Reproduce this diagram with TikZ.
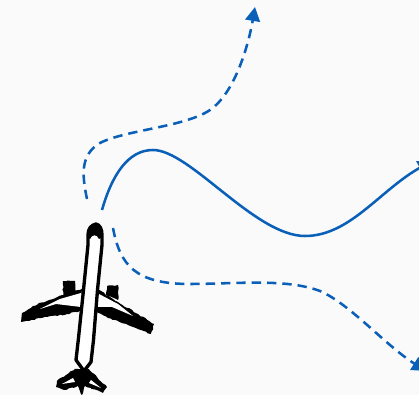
\documentclass[tikz,border=0pt]{standalone}
\usepackage{xcolor}
\usetikzlibrary{arrows.meta, decorations.pathmorphing}
\definecolor{routeblue}{RGB}{10,95,184}
\definecolor{paper}{RGB}{250,250,250}

\begin{document}
\begin{tikzpicture}[
  x=0.75pt, y=-0.75pt,
  route/.style={routeblue, line width=1.9pt, -{Triangle[length=10.5pt, width=11pt]}},
  routedash/.style={route, dash pattern=on 7pt off 4.5pt},
  hull/.style={draw=black, line width=2.5pt, fill=white, line join=round},
  rough/.style={decorate, decoration={random steps, segment length=2pt, amplitude=0.5pt}}
]
\fill[paper, use as bounding box] (0,0) rectangle (419,395);

% end points of the routes
\coordinate (dep1) at (87,199);
\coordinate (dep2) at (102,210);
\coordinate (dep3) at (113,228);
\coordinate (goal1) at (255,7);
\coordinate (goal2) at (432,161);
\coordinate (goal3) at (426,371);

% routes
\draw[routedash] (dep1) .. controls (82,175) and (80,155) .. (100,143)
  .. controls (125,130) and (185,127) .. (210,110)
  .. controls (236,92) and (249,42) .. (goal1);
\draw[route] (dep2) .. controls (112,175) and (128,150) .. (153,150)
  .. controls (190,150) and (255,236) .. (305,236)
  .. controls (350,236) and (380,190) .. (goal2);
\draw[routedash] (dep3) .. controls (120,265) and (135,284) .. (190,284)
  .. controls (235,284) and (285,278) .. (320,291)
  .. controls (350,304) and (385,345) .. (goal3);

% engines
\fill[black, rough] (63,281) -- (75,281) -- (76,292) -- (63,298) -- cycle;
\fill[black, rough] (107,286) -- (118,285) -- (118,300) -- (106,295) -- cycle;

% wings
\fill[black, rough] (82,289) -- (62,295) -- (33,306) -- (22,313) -- (21,322) -- (47,317) -- (67,314) -- (80,311) -- cycle;
\fill[white] (81,293) -- (60,299) -- (40,309) -- (56,304) -- (81,307) -- cycle;
\fill[black, rough] (97,289) -- (118,302) -- (154,324) -- (151,334) -- (128,325) -- (108,318) -- (96,312) -- cycle;
\fill[white] (97,293) -- (118,304) -- (133,316) -- (112,307) -- (97,307) -- cycle;

% tail
\fill[black, rough] (75,369) -- (57,381) -- (56,387) -- (64,390) -- (78,386) -- (82,395) -- (85,386) -- (103,393) -- (107,387) -- (89,369) -- cycle;
\fill[white] (73,378) -- (62,384) -- (75,382) -- cycle;
\fill[white] (91,380) -- (101,388) -- (89,383) -- cycle;

% fuselage
\draw[hull] (96,224) .. controls (100,225) and (102,229) .. (102,235) -- (102,245) -- (97.5,290) -- (93.5,340) -- (91,362) -- (84,371) -- (76,360) -- (78.5,338) -- (83.5,290) -- (88,245) -- (88,235) .. controls (88,229) and (91,225) .. (96,224) -- cycle;
\fill[black] (96,224) .. controls (100,225) and (103,229) .. (103,237) -- (99,239) .. controls (97,234) and (92,234) .. (90,239) -- (87,237) .. controls (87,229) and (91,225) .. (96,224) -- cycle;
\end{tikzpicture}
\end{document}
